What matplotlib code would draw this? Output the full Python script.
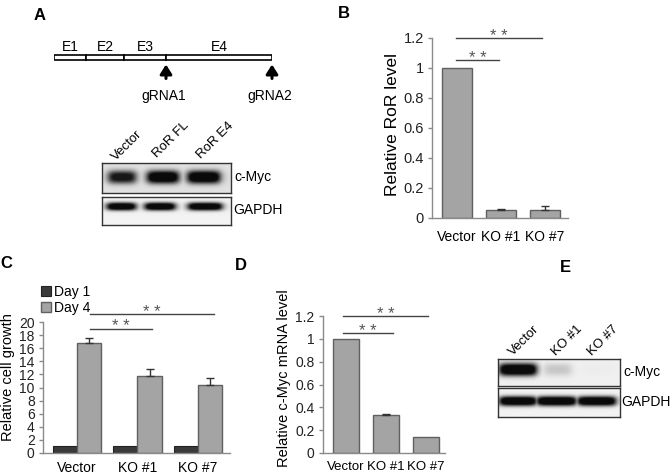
import numpy as np
import matplotlib
matplotlib.use("Agg")
import matplotlib.pyplot as plt
from matplotlib.ticker import FuncFormatter, MultipleLocator

plt.rcParams['font.family'] = ['Liberation Sans', 'DejaVu Sans']

W, H = 672, 475
fig = plt.figure(figsize=(W / 100, H / 100), dpi=100)

# ---------------- data ----------------
exon_names = ["E1", "E2", "E3", "E4"]
exon_lengths = [32, 38, 42, 106]
grna_names = ["gRNA1", "gRNA2"]
grna_after_exon = [3, 4]          # gRNA cut site after exon n

blotA_lanes = ["Vector", "RoR FL", "RoR E4"]
blotA_cmyc = [0.85, 1.0, 1.0]
blotA_gapdh = [1.0, 1.0, 1.0]

b_cats = ["Vector", "KO #1", "KO #7"]
b_vals = [1.0, 0.05, 0.05]
b_err = [0.0, 0.01, 0.03]

c_cats = ["Vector", "KO #1", "KO #7"]
c_day1 = [1.0, 1.0, 1.0]
c_day4 = [16.8, 11.8, 10.4]
c_day4_err = [0.7, 1.0, 1.1]

d_cats = ["Vector", "KO #1", "KO #7"]
d_vals = [1.0, 0.33, 0.14]
d_err = [0.0, 0.01, 0.0]

blotE_lanes = ["Vector", "KO #1", "KO #7"]
blotE_cmyc = [1.0, 0.35, 0.1]
blotE_gapdh = [1.0, 1.0, 1.0]

# significance: (start, end, height) in data units
b_sig = [(-0.02, 0.95, 1.05), (-0.02, 1.93, 1.2)]
c_sig = [(0.21, 1.24, 19.0), (0.21, 2.26, 21.2)]
d_sig = [(-0.08, 1.18, 1.05), (-0.08, 2.05, 1.2)]

BAR = "#a4a4a4"
BAR_EDGE = "#606060"
DARK = "#3a3a3a"
SPINE = "#8a8a8a"


def px_axes(x0, y0, x1, y1):
    return fig.add_axes([x0 / W, 1 - y1 / H, (x1 - x0) / W, (y1 - y0) / H])


def ftext(x, y, s, **kw):
    fig.text(x / W, 1 - y / H, s, **kw)


def style_axes(ax, ysize=10):
    for s in ("top", "right"):
        ax.spines[s].set_visible(False)
    for s in ("left", "bottom"):
        ax.spines[s].set_color(SPINE)
        ax.spines[s].set_linewidth(1.0)
    ax.tick_params(axis="y", length=3, width=1, color=SPINE, pad=3,
                   labelsize=ysize, labelcolor="#222222")
    ax.yaxis.set_major_formatter(FuncFormatter(lambda v, p: "%g" % round(v, 3)))


def add_err(ax, x, vals, errs):
    x = np.asarray(x, float)
    vals = np.asarray(vals, float)
    errs = np.asarray(errs, float)
    m = errs > 0
    if m.any():
        ax.errorbar(x[m], vals[m], yerr=[np.zeros(m.sum()), errs[m]], fmt="none",
                    ecolor="#333333", elinewidth=1, capsize=3, capthick=1)


def add_sig(ax, sig, dy_pt=-2.0):
    for (a, b, h) in sig:
        ax.plot([a, b], [h, h], color="#444444", lw=1.0, clip_on=False)
        ax.annotate("* *", xy=((a + b) / 2, h), xytext=(0, dy_pt),
                    textcoords="offset points", ha="center", va="baseline",
                    fontsize=12, color="#555555", annotation_clip=False)


# ---------------- Panel labels ----------------
for lab, x, y in [("A", 40, 15), ("B", 344, 14), ("C", 6, 264),
                  ("D", 241, 265), ("E", 565, 268)]:
    ftext(x, y, lab, fontsize=12, fontweight="bold", ha="center", va="center")

# ---------------- Panel A: gene diagram ----------------
axg = px_axes(54, 30, 272, 110)
total = sum(exon_lengths)
starts = np.concatenate([[0], np.cumsum(exon_lengths)[:-1]])
axg.bar(starts, 5, width=exon_lengths, bottom=25, align="edge",
        color="white", edgecolor="black", linewidth=1.2)
axg.set_xlim(0, total)
axg.set_ylim(80, 0)
axg.axis("off")
for nm, s, l in zip(exon_names, starts, exon_lengths):
    axg.text(s + l / 2, 17, nm, ha="center", va="center", fontsize=10, clip_on=False)
cum = np.cumsum(exon_lengths)
for nm, k in zip(grna_names, grna_after_exon):
    xg = cum[k - 1]
    axg.annotate("", xy=(xg, 34.5), xytext=(xg, 48.5),
                 arrowprops=dict(arrowstyle="-|>,head_width=0.35,head_length=0.55",
                                 lw=2.2, color="black", shrinkA=0, shrinkB=0),
                 annotation_clip=False)
    axg.text(xg - 2, 66, nm, ha="center", va="center", fontsize=10, clip_on=False)


# ---------------- blot helper ----------------
def blot(box, centers, halfw, intens, cy, sy, bg):
    ax = px_axes(*box)
    xs = np.linspace(0, 1, 400)
    ys = np.linspace(1, 0, 100)
    X, Y = np.meshgrid(xs, ys)
    dark = np.zeros_like(X)
    for c, h, I in zip(centers, halfw, intens):
        px_ = 1 / (1 + np.exp((np.abs(X - c) - h) / 0.018))
        py_ = np.exp(-np.abs((Y - cy) / sy) ** 2.5)
        dark = np.maximum(dark, np.clip(I * px_ * py_ * 1.35, 0, 1) * min(1, I * 1.1))
    img = bg - dark * (bg - 0.04)
    ax.imshow(img, cmap="gray", vmin=0, vmax=1, extent=(0, 1, 0, 1),
              aspect="auto", interpolation="bilinear")
    ax.set_xticks([])
    ax.set_yticks([])
    for s in ax.spines.values():
        s.set_color("#333333")
        s.set_linewidth(1.0)
    return ax


# Panel A blot
blot((102, 163, 231, 193), [0.155, 0.473, 0.79], [0.105, 0.12, 0.124],
     blotA_cmyc, 0.53, 0.22, 0.88)
blot((102, 197, 231, 225), [0.15, 0.45, 0.80], [0.11, 0.116, 0.13],
     blotA_gapdh, 0.64, 0.14, 0.95)
ftext(234, 177, "c-Myc", fontsize=10, ha="left", va="center")
ftext(233, 210, "GAPDH", fontsize=10, ha="left", va="center")
for nm, (x, y) in zip(blotA_lanes, [(116, 161), (157, 158), (201, 159)]):
    ftext(x, y, nm, fontsize=9.5, rotation=45, rotation_mode="anchor",
          ha="left", va="baseline")

# Panel E blot
blot((498, 359, 620, 386), [0.164, 0.49, 0.82], [0.15, 0.11, 0.12],
     blotE_cmyc, 0.61, 0.24, 0.94)
blot((498, 388, 620, 417), [0.164, 0.48, 0.81], [0.15, 0.16, 0.155],
     blotE_gapdh, 0.55, 0.17, 0.95)
ftext(623, 372, "c-Myc", fontsize=10, ha="left", va="center")
ftext(621, 402, "GAPDH", fontsize=10, ha="left", va="center")
for nm, (x, y) in zip(blotE_lanes, [(513, 356), (556, 356), (592, 356)]):
    ftext(x, y, nm, fontsize=9.5, rotation=45, rotation_mode="anchor",
          ha="left", va="baseline")

# ---------------- Panel B ----------------
axb = px_axes(432, 38, 568, 218)
xb = np.arange(len(b_cats))
axb.bar(xb, b_vals, width=0.68, color=BAR, edgecolor=BAR_EDGE, linewidth=1.0)
add_err(axb, xb, b_vals, b_err)
axb.set_xlim(-0.57, 2.52)
axb.set_ylim(0, 1.2)
axb.yaxis.set_major_locator(MultipleLocator(0.2))
style_axes(axb, ysize=10.5)
axb.set_xticks(xb)
axb.set_xticklabels(b_cats, fontsize=10)
axb.tick_params(axis="x", length=0, pad=9)
axb.set_ylabel("Relative RoR level", fontsize=12.5)
axb.yaxis.set_label_coords(-0.235, 0.517)
add_sig(axb, b_sig)

# ---------------- Panel C ----------------
axc = px_axes(43, 322, 230, 453)
xc = np.arange(len(c_cats))
bd1 = axc.bar(xc - 0.2, c_day1, width=0.4, color=DARK, edgecolor="#222222",
              linewidth=0.8, label="Day 1")
bd4 = axc.bar(xc + 0.2, c_day4, width=0.4, color=BAR, edgecolor=BAR_EDGE,
              linewidth=1.0, label="Day 4")
add_err(axc, xc + 0.2, c_day4, c_day4_err)
axc.set_xlim(-0.56, 2.53)
axc.set_ylim(0, 20)
axc.yaxis.set_major_locator(MultipleLocator(2))
style_axes(axc, ysize=10)
axc.set_xticks(xc)
axc.set_xticklabels(c_cats, fontsize=10)
axc.tick_params(axis="x", length=0, pad=6)
axc.set_ylabel("Relative cell growth", fontsize=10.5)
axc.yaxis.set_label_coords(-0.148, 0.58)
add_sig(axc, c_sig)
axc.legend(handles=[bd1, bd4], loc="upper left",
           bbox_to_anchor=(41 / W, 1 - 285 / H), bbox_transform=fig.transFigure,
           frameon=False, fontsize=10, handlelength=0.7, handleheight=0.7,
           handletextpad=0.25, labelspacing=0.15, borderpad=0, borderaxespad=0)

# ---------------- Panel D ----------------
axd = px_axes(323, 316, 445, 453)
xd = np.arange(len(d_cats))
axd.bar(xd, d_vals, width=0.67, color=BAR, edgecolor=BAR_EDGE, linewidth=1.0)
add_err(axd, xd, d_vals, d_err)
axd.set_xlim(-0.575, 2.475)
axd.set_ylim(0, 1.2)
axd.yaxis.set_major_locator(MultipleLocator(0.2))
style_axes(axd, ysize=10)
axd.set_xticks(xd)
axd.set_xticklabels(d_cats, fontsize=9.5)
axd.tick_params(axis="x", length=0, pad=6)
axd.set_ylabel("Relative c-Myc mRNA level", fontsize=10.5)
axd.yaxis.set_label_coords(-0.262, 0.55)
add_sig(axd, d_sig)

fig.savefig("out.png", dpi=100)
